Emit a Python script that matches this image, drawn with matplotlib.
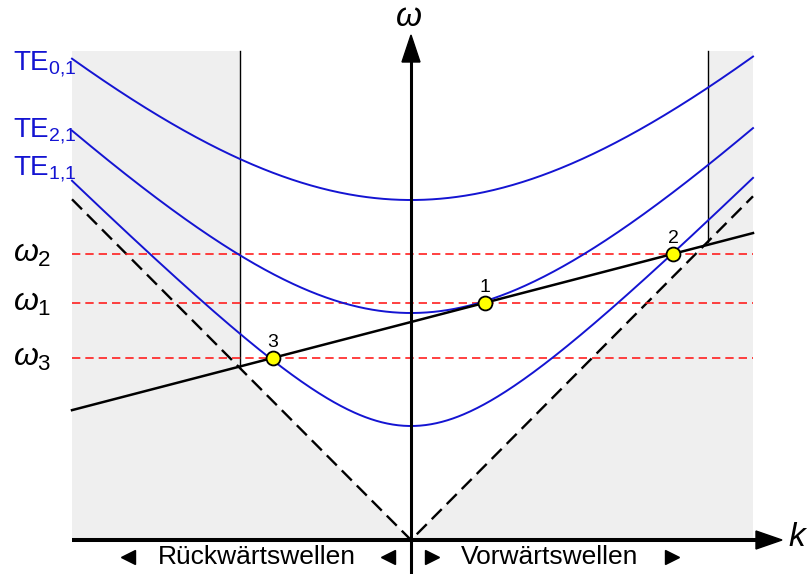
import numpy as np
import matplotlib.pyplot as plt
from matplotlib.patches import Polygon, Rectangle

plt.rcParams['font.family'] = 'Liberation Sans'
plt.rcParams['mathtext.fontset'] = 'custom'
plt.rcParams['mathtext.rm'] = 'Liberation Sans'
plt.rcParams['mathtext.it'] = 'Liberation Sans:italic'

# waveguide modes: w^2 = wc^2 + (c k)^2
c_light = 1.005
modes = ['TE$_{0{,}1}$', 'TE$_{2{,}1}$', 'TE$_{1{,}1}$']
w_cut = [3.40, 2.27, 1.14]
label_w = [4.70, 4.03, 3.65]

# straight line w = w0 + slope * k
w0 = 2.18
slope = 0.26

# operating points on the line
pt_k = [0.74, 2.62, -1.38]
pt_w = [2.37, 2.86, 1.82]
pt_names = ['1', '2', '3']
w_names = [r'$\omega_1$', r'$\omega_2$', r'$\omega_3$']

k_min, k_max = -3.39, 3.42
w_top = 4.89
k_left, k_right = -1.71, 2.97

blue = '#1414d2'

fig = plt.figure(figsize=(8.11, 5.74), dpi=100)
ax = fig.add_axes([0, 0, 1, 1])
ax.set_xlim(-4.11, 4.00)
ax.set_ylim(-0.34, 5.40)
ax.axis('off')

# shaded background, white inside the light cone between the two borders
ax.add_patch(Rectangle((k_min, 0), k_max - k_min, w_top, fc='#efefef', ec='none', zorder=0))
ax.add_patch(Polygon([(k_left, w_top), (k_right, w_top), (k_right, c_light * k_right),
                      (0, 0), (k_left, -c_light * k_left)], closed=True,
                     fc='white', ec='none', zorder=0))
for kb in (k_left, k_right):
    ax.plot([kb, kb], [c_light * abs(kb), w_top], color='k', lw=1.0, zorder=1)

# light lines
ax.plot([k_min, 0, k_max], [-c_light * k_min, 0, c_light * k_max], color='k',
        lw=1.7, dashes=(6, 3), zorder=2)

# mode curves
k = np.linspace(k_min, k_max, 500)
for name, wc, lw_ in zip(modes, w_cut, label_w):
    ax.plot(k, np.sqrt(wc**2 + (c_light * k)**2), color=blue, lw=1.4, zorder=3)
    ax.text(-3.98, lw_, name, color=blue, fontsize=20, ha='left', va='baseline')

# frequency levels
for w, name in zip(pt_w, w_names):
    ax.plot([k_min, k_max], [w, w], color='#ff2020', lw=1.2, dashes=(5, 3), zorder=2)
    ax.text(-3.98, w, name, fontsize=23, ha='left', va='center')

# straight line
ax.plot([k_min, k_max], [w0 + slope * k_min, w0 + slope * k_max], color='k', lw=1.8, zorder=4)

# points
ax.plot(pt_k, pt_w, 'o', ms=10, mfc='#ffff00', mec='k', mew=1.3, zorder=6)
for kk, ww, name in zip(pt_k, pt_w, pt_names):
    ax.annotate(name, (kk, ww), xytext=(0, 11), textcoords='offset points',
                ha='center', va='center', fontsize=14)

# axes with arrow heads
ax.plot([k_min, 3.46], [0, 0], color='k', lw=2.9, solid_capstyle='butt', zorder=7)
ax.add_patch(Polygon([(3.45, 0.09), (3.71, 0), (3.45, -0.09)], fc='k', ec='k', zorder=7))
ax.plot([0, 0], [-0.34, 4.79], color='k', lw=2.2, solid_capstyle='butt', zorder=7)
ax.add_patch(Polygon([(-0.09, 4.78), (0, 5.05), (0.09, 4.78)], fc='k', ec='k', zorder=7))
ax.text(3.86, 0.03, 'k', style='italic', fontsize=24, ha='center', va='center')
ax.text(-0.03, 5.23, r'$\omega$', fontsize=24, ha='center', va='center')

# direction labels
ax.text(-1.54, -0.17, 'Rückwärtswellen', fontsize=19, ha='center', va='center')
ax.text(1.39, -0.17, 'Vorwärtswellen', fontsize=19, ha='center', va='center')
ax.plot([-2.83, -0.23], [-0.17, -0.17], '<', color='k', ms=10, ls='none')
ax.plot([0.21, 2.61], [-0.17, -0.17], '>', color='k', ms=10, ls='none')

fig.savefig('out.png', dpi=100)
